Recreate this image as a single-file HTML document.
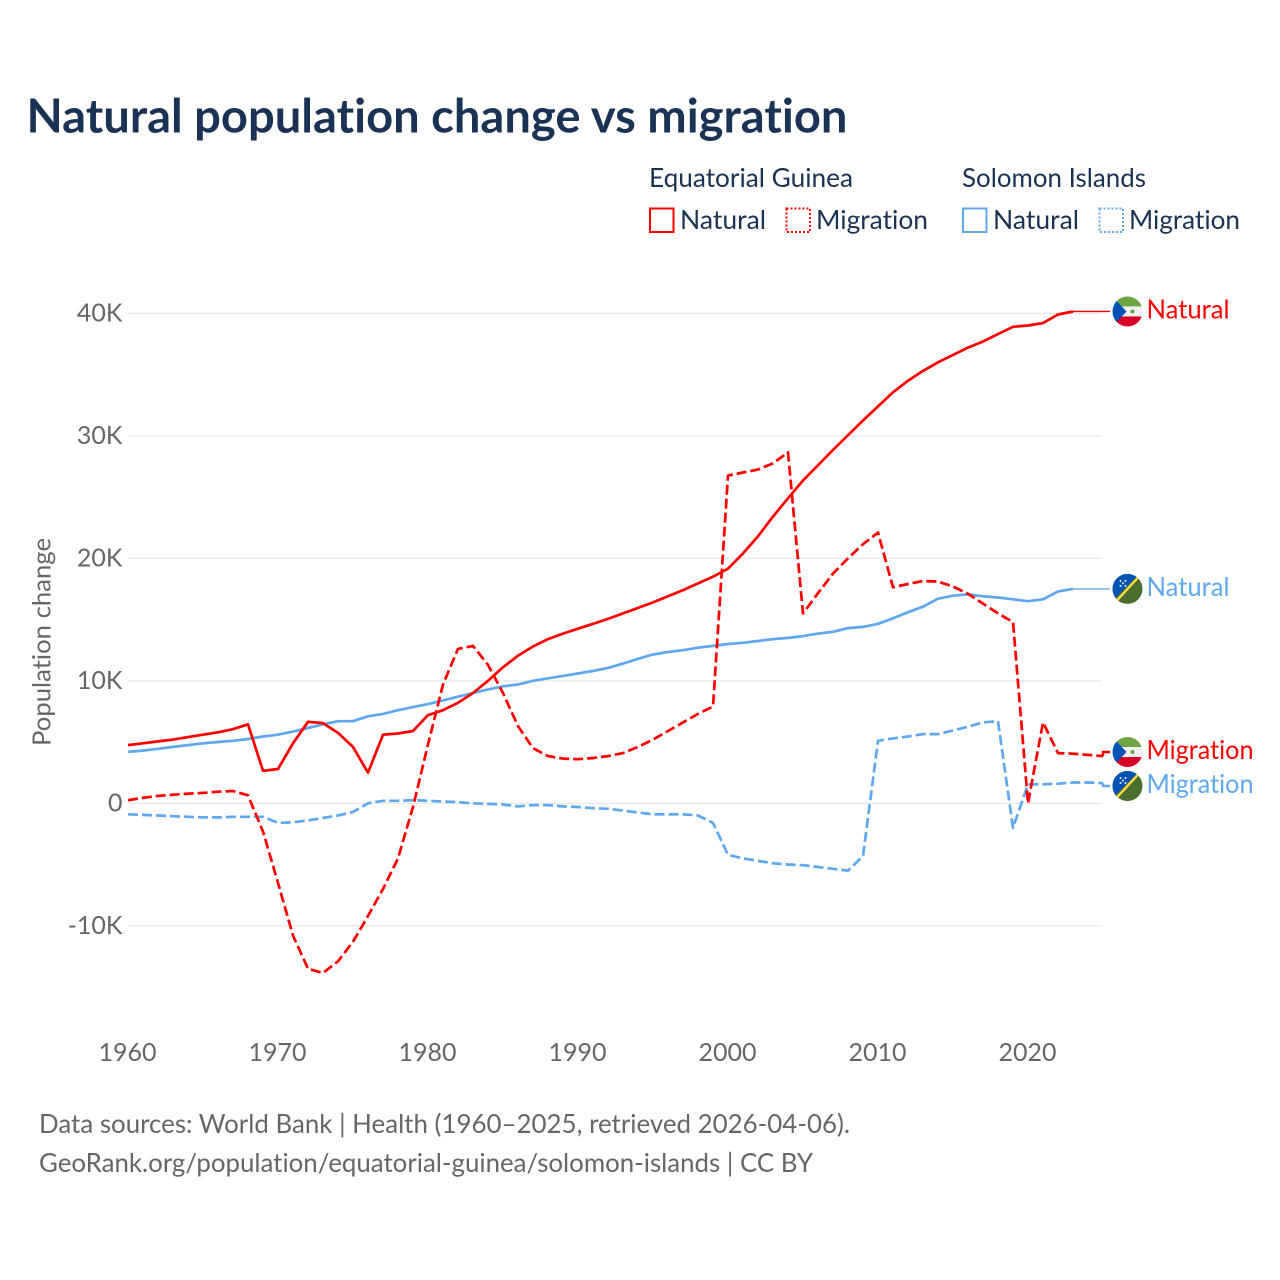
<!DOCTYPE html>
<html lang="en">
<head>
<meta charset="utf-8">
<title>Natural population change vs migration</title>
<style>
html,body{margin:0;padding:0;background:#fff;width:1280px;height:1280px;overflow:hidden}
svg{display:block}
text{font-family:"Lato","Carlito","Liberation Sans",sans-serif;font-variant-ligatures:none;font-feature-settings:"liga" 0}
</style>
</head>
<body>
<svg id="chart" xmlns="http://www.w3.org/2000/svg" width="1280" height="1280" viewBox="0 0 1280 1280">
<defs>
<clipPath id="flag-clip"><circle cx="0" cy="0" r="15"/></clipPath>
<g id="flag-gq">
<g clip-path="url(#flag-clip)">
<rect x="-15" y="-15" width="30" height="10" fill="#6da544"/>
<rect x="-15" y="-5" width="30" height="10" fill="#f0f0f0"/>
<rect x="-15" y="5" width="30" height="10" fill="#d80027"/>
<polygon points="-15,-15 -15,15 -1,0" fill="#0052b4"/>
<circle cx="5" cy="0" r="2" fill="#6da544"/>
</g>
</g>
<g id="flag-sb">
<g clip-path="url(#flag-clip)">
<rect x="-15" y="-15" width="30" height="30" fill="#496e2d"/>
<polygon points="-15,-15 12,-15 -15,12" fill="#0052b4"/>
<line x1="-12" y1="13" x2="12" y2="-13" stroke="#ffda44" stroke-width="2.4"/>
<g fill="#f0f0f0"><circle cx="-7" cy="-8" r="1"/><circle cx="-2" cy="-8" r="1"/><circle cx="-4.5" cy="-5.5" r="1"/><circle cx="-7" cy="-3" r="1"/><circle cx="-2" cy="-3" r="1"/></g>
</g>
</g>
</defs>

<text x="26.5" y="132.5" font-size="47" font-weight="700" fill="#1a3355" textLength="821" lengthAdjust="spacingAndGlyphs">Natural population change vs migration</text>

<g font-size="26.5" fill="#1a3355">
<text x="649" y="187" textLength="204" lengthAdjust="spacingAndGlyphs">Equatorial Guinea</text>
<text x="962" y="187" textLength="184" lengthAdjust="spacingAndGlyphs">Solomon Islands</text>

<g>
<rect x="650" y="208.5" width="23.5" height="23.5" fill="none" stroke="#ff0000" stroke-width="2"/>
<text x="680" y="229" textLength="86" lengthAdjust="spacingAndGlyphs">Natural</text>
</g>
<g>
<rect x="786.5" y="208.5" width="23.5" height="23.5" fill="none" stroke="#ff0000" stroke-width="2" stroke-dasharray="2 2"/>
<text x="816" y="229" textLength="112" lengthAdjust="spacingAndGlyphs">Migration</text>
</g>
<g>
<rect x="963" y="208.5" width="23.5" height="23.5" fill="none" stroke="#5fa8ee" stroke-width="2"/>
<text x="993" y="229" textLength="86" lengthAdjust="spacingAndGlyphs">Natural</text>
</g>
<g>
<rect x="1099.5" y="208.5" width="23.5" height="23.5" fill="none" stroke="#5fa8ee" stroke-width="2" stroke-dasharray="2 2"/>
<text x="1129" y="229" textLength="111" lengthAdjust="spacingAndGlyphs">Migration</text>
</g>
</g>

<g id="grid"></g>
<g id="y-axis"></g>
<g id="x-axis"></g>
<text transform="translate(50.5,642) rotate(-90)" text-anchor="middle" font-size="25.5" fill="#666666" textLength="208" lengthAdjust="spacingAndGlyphs">Population change</text>
<g id="series"></g>
<g id="endpoints"></g>

<text x="39" y="1133" font-size="26.5" fill="#666666" textLength="811" lengthAdjust="spacingAndGlyphs">Data sources: World Bank | Health (1960–2025, retrieved 2026-04-06).</text>
<text x="39" y="1172" font-size="26.5" fill="#666666" textLength="774" lengthAdjust="spacingAndGlyphs">GeoRank.org/population/equatorial-guinea/solomon-islands | CC BY</text>
</svg>

<script>
const startYear = 1960;
const xTickYears = [1960, 1970, 1980, 1990, 2000, 2010, 2020];
const yTickValues = [-10, 0, 10, 20, 30, 40];
const yTickLabels = ['-10K', '0', '10K', '20K', '30K', '40K'];

const gqNatural = [4.75,4.9,5.05,5.2,5.4,5.6,5.8,6.05,6.45,2.65,2.8,4.9,6.65,6.55,5.75,4.6,2.5,5.6,5.7,5.9,7.2,7.6,8.2,9.0,10.0,11.1,12.05,12.8,13.4,13.85,14.25,14.65,15.05,15.5,15.95,16.4,16.9,17.4,17.95,18.5,19.15,20.4,21.8,23.4,24.9,26.35,27.6,28.85,30.05,31.25,32.4,33.55,34.5,35.3,36,36.6,37.2,37.7,38.3,38.9,39.0,39.2,39.9,40.15];
const gqMigration = [0.25,0.45,0.6,0.7,0.78,0.85,0.95,1.0,0.65,-2.3,-6.5,-10.8,-13.5,-13.85,-12.9,-11.3,-9.2,-7,-4.5,-0.3,4.8,9.7,12.6,12.85,11.3,9,6.3,4.5,3.85,3.65,3.6,3.7,3.85,4.1,4.6,5.2,5.9,6.6,7.3,7.9,26.75,27,27.25,27.75,28.65,15.5,17.15,18.75,20,21.15,22.1,17.63,17.9,18.15,18.1,17.7,17.1,16.3,15.5,14.8,0,6.6,4.1,4.05,3.95,3.85];
const sbNatural = [4.2,4.3,4.45,4.6,4.75,4.9,5.0,5.1,5.25,5.45,5.6,5.85,6.15,6.45,6.7,6.7,7.1,7.3,7.6,7.85,8.1,8.4,8.7,9,9.3,9.55,9.7,10,10.2,10.4,10.6,10.8,11.05,11.4,11.8,12.15,12.35,12.5,12.7,12.85,13.0,13.1,13.25,13.4,13.5,13.65,13.85,14,14.3,14.4,14.65,15.1,15.6,16.05,16.7,16.95,17.05,16.9,16.8,16.65,16.5,16.65,17.3,17.5];
const sbMigration = [-0.9,-0.95,-1,-1.05,-1.1,-1.15,-1.15,-1.1,-1.1,-1.1,-1.6,-1.55,-1.4,-1.2,-1.0,-0.7,0,0.2,0.2,0.25,0.2,0.15,0.1,0,-0.05,-0.1,-0.25,-0.15,-0.15,-0.25,-0.3,-0.4,-0.45,-0.6,-0.75,-0.9,-0.9,-0.9,-1,-1.6,-4.2,-4.5,-4.7,-4.9,-5,-5.05,-5.2,-5.35,-5.5,-4.3,5.1,5.3,5.45,5.65,5.65,5.95,6.25,6.6,6.7,-2,1.55,1.55,1.6,1.7,1.7,1.65];

const NS = 'http://www.w3.org/2000/svg';
const RED = '#ff0000';
const BLUE = '#5fa8ee';
const GREY = '#666666';
const plotLeft = 128;
const plotRight = 1102;
const flagX = 1127.5;

function xScale(year) { return 128 + (year - 1960) * 15; }
function yScale(v) { return 803.3 - v * 12.25; }

function make(tag, attrs, parent) {
  const el = document.createElementNS(NS, tag);
  Object.keys(attrs).forEach(function (k) { el.setAttribute(k, attrs[k]); });
  parent.appendChild(el);
  return el;
}

const gridGroup = document.getElementById('grid');
const yAxisGroup = document.getElementById('y-axis');
const xAxisGroup = document.getElementById('x-axis');
const seriesGroup = document.getElementById('series');
const endGroup = document.getElementById('endpoints');

yTickValues.forEach(function (v, i) {
  const line = make('line', { x1: plotLeft, x2: plotRight, y1: yScale(v), y2: yScale(v), stroke: '#e6e6e6', 'stroke-width': 1.2 }, gridGroup);
  
  
  const t = make('text', { x: 122.5, y: yScale(v) + 8, 'text-anchor': 'end', 'font-size': 25, fill: GREY }, yAxisGroup);
  
  
  t.textContent = yTickLabels[i];
});

xTickYears.forEach(function (yr) {
  const t = make('text', { x: xScale(yr) - 0.5, y: 1061, 'text-anchor': 'middle', 'font-size': 25, fill: GREY }, xAxisGroup);
  
  
  t.textContent = yr;
});

function drawSeries(values, colour, dashed, flagId, labelText, labelWidth, offset, seriesName) {
  const pts = values.map(function (v, i) { return xScale(startYear + i).toFixed(1) + ',' + yScale(v).toFixed(1); });
  const line = make('polyline', {
    points: pts.join(' '), fill: 'none', stroke: colour, 'stroke-width': 2.7,
    'stroke-linejoin': 'round', 'stroke-dasharray': dashed ? '10 4' : 'none'
  }, seriesGroup);
  
  

  const lastIndex = values.length - 1;
  const lastX = xScale(startYear + lastIndex);
  const lastY = yScale(values[lastIndex]);
  const cy = lastY + offset;
  const conn = make('path', {
    d: 'M' + lastX + ' ' + lastY + ' L' + lastX + ' ' + cy + ' L' + (flagX - 17.5) + ' ' + cy,
    fill: 'none', stroke: colour, 'stroke-width': dashed ? 2.5 : 1.4
  }, endGroup);
  
  

  const flag = make('use', { href: '#' + flagId, transform: 'translate(' + flagX + ',' + cy + ')' }, endGroup);
  
  

  const label = make('text', {
    x: 1146.5, y: cy + 7, 'font-size': 26.5, fill: colour,
    textLength: labelWidth, lengthAdjust: 'spacingAndGlyphs'
  }, endGroup);
  
  
  label.textContent = labelText;
}

drawSeries(sbMigration, BLUE, true, 'flag-sb', 'Migration', 107, 2.9, 'solomon-islands-migration');
drawSeries(sbNatural, BLUE, false, 'flag-sb', 'Natural', 83, 0, 'solomon-islands-natural');
drawSeries(gqMigration, RED, true, 'flag-gq', 'Migration', 107, -4.1, 'equatorial-guinea-migration');
drawSeries(gqNatural, RED, false, 'flag-gq', 'Natural', 83, 0, 'equatorial-guinea-natural');
</script>
</body>
</html>
